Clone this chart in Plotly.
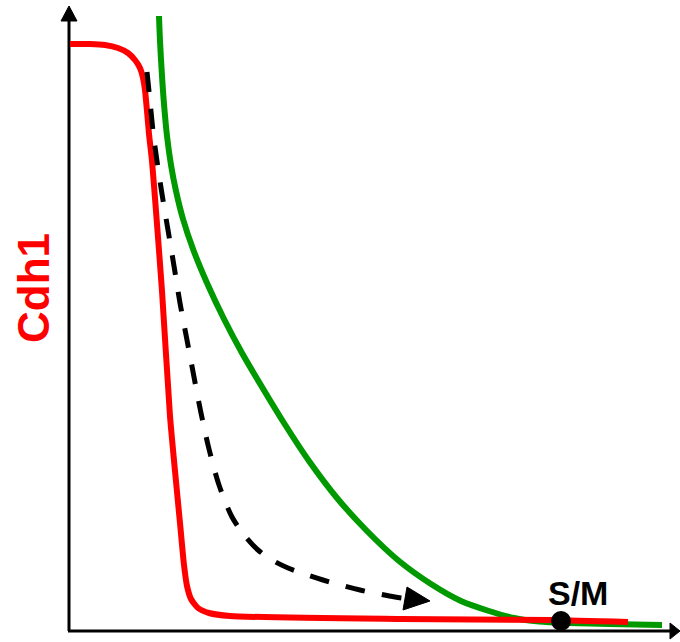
import plotly.graph_objects as go

# Cdh1 level (red) falling as the cell cycle advances, the green threshold
# curve, and the dashed trajectory that leads toward the S/M point.
red_x = [1, 21, 36, 49, 59, 66, 71, 74, 76, 78, 80, 83, 87, 93, 101, 106, 111,
         115, 118, 122, 129, 140, 161, 331, 481, 559]
red_y = [587, 587, 586, 583, 578, 571, 563, 553, 541, 520, 497, 470, 420, 340,
         215, 160, 108, 66, 45, 32, 23, 18, 15, 12, 11, 9]

green_x = [90, 91, 93, 95, 98, 102, 107, 114, 124, 138, 155, 173, 193, 215,
           240, 268, 298, 330, 362, 392, 420, 445, 470, 500, 540, 593]
green_y = [615, 590, 555, 527, 495, 466, 440, 412, 382, 348, 312, 278, 244,
           208, 170, 133, 100, 70, 47, 30, 20, 13, 9.5, 8, 7, 6]

path_x = [78, 81, 84, 88, 93, 99, 105, 111, 118, 125, 132, 140, 150, 163, 176,
          189, 203, 219, 254, 291, 326, 341]
path_y = [559, 530, 500, 470, 437, 401, 365, 328, 291, 254, 218, 182, 146, 114,
          95, 81, 71, 63, 51, 41, 34, 32]
path_head_x = [361, 338, 334, 361]
path_head_y = [30, 44, 21, 30]

sm_x = [492]
sm_y = [10]
sm_label = "S/M"
y_label = "Cdh1"

# axis extents (data units)
x_end = 611
y_end = 625
head_len = 10
head_half = 8

fig = go.Figure()

# axes drawn as lines with filled arrowheads
fig.add_trace(go.Scatter(x=[0, 0], y=[0, y_end - 14], mode="lines",
                         line=dict(color="black", width=3), hoverinfo="skip"))
fig.add_trace(go.Scatter(x=[-1, x_end - head_len], y=[0, 0], mode="lines",
                         line=dict(color="black", width=3), hoverinfo="skip"))
fig.add_trace(go.Scatter(x=[0, -head_half, head_half, 0],
                         y=[y_end, y_end - 15, y_end - 15, y_end],
                         mode="lines", fill="toself", fillcolor="black",
                         line=dict(color="black", width=1), hoverinfo="skip"))
fig.add_trace(go.Scatter(x=[x_end, x_end - head_len, x_end - head_len, x_end],
                         y=[0, head_half, -head_half, 0],
                         mode="lines", fill="toself", fillcolor="black",
                         line=dict(color="black", width=1), hoverinfo="skip"))

# curves
fig.add_trace(go.Scatter(x=green_x, y=green_y, mode="lines",
                         line=dict(color="#009900", width=6, shape="spline",
                                   smoothing=0.8), hoverinfo="skip"))
fig.add_trace(go.Scatter(x=red_x, y=red_y, mode="lines",
                         line=dict(color="#FF0000", width=6, shape="spline",
                                   smoothing=0.6), hoverinfo="skip"))
fig.add_trace(go.Scatter(x=path_x, y=path_y, mode="lines",
                         line=dict(color="black", width=5, dash="20px,17px",
                                   shape="spline", smoothing=0.8),
                         hoverinfo="skip"))
fig.add_trace(go.Scatter(x=path_head_x, y=path_head_y, mode="lines",
                         fill="toself", fillcolor="black",
                         line=dict(color="black", width=1), hoverinfo="skip"))

# S/M point
fig.add_trace(go.Scatter(x=sm_x, y=sm_y, mode="markers",
                         marker=dict(color="black", size=20), hoverinfo="skip"))

fig.add_annotation(x=sm_x[0] + 17, y=sm_y[0] + 28, text="<b>%s</b>" % sm_label,
                   showarrow=False, xanchor="center", yanchor="middle",
                   font=dict(family="Liberation Sans, Arial", size=34,
                             color="black"))
fig.add_annotation(x=-36, y=343, text="<b>%s</b>" % y_label, textangle=-90,
                   showarrow=False, xanchor="center", yanchor="middle",
                   font=dict(family="Liberation Sans, Arial", size=44,
                             color="#FF0000"))

fig.update_layout(
    width=680, height=642, autosize=False,
    margin=dict(l=0, r=0, t=0, b=0),
    paper_bgcolor="white", plot_bgcolor="white",
    showlegend=False,
    xaxis=dict(range=[-69, 611], visible=False, fixedrange=True),
    yaxis=dict(range=[-11, 631], visible=False, fixedrange=True),
)

fig.write_html("out.html")
